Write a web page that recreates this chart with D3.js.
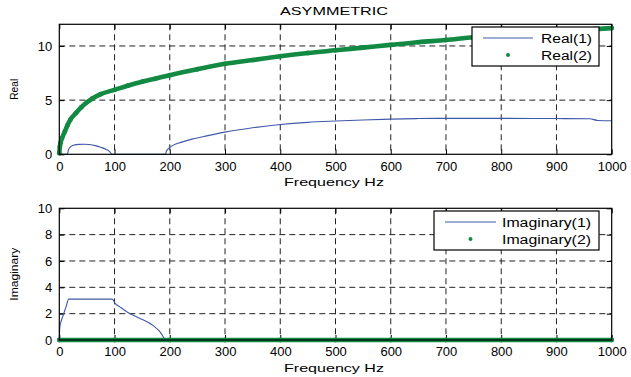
<!DOCTYPE html>
<html>
<head>
<meta charset="utf-8">
<script src="https://cdn.jsdelivr.net/npm/d3@7"></script>
<style>
  body { margin: 0; background: #fff; }
  text { font-family: "Liberation Sans", Arial, sans-serif; fill: #000; }
</style>
</head>
<body>
<svg id="chart" width="631" height="377"></svg>
<script>
// values
const xTicks = [0, 100, 200, 300, 400, 500, 600, 700, 800, 900, 1000];
const realTicks = [0, 5, 10];
const imagTicks = [0, 2, 4, 6, 8, 10];

const real1 = [[0,0],[15,0],[16,0.3],[18,0.55],[22,0.75],[28,0.87],[35,0.92],[45,0.93],[55,0.9],[65,0.8],[75,0.65],[85,0.45],[92,0.2],[95,0],
  [192,0],[194,0.3],[198,0.55],[205,0.8],[220,1.1],[240,1.4],[260,1.62],[300,2.05],[350,2.45],[400,2.75],[450,2.95],[500,3.07],
  [550,3.17],[600,3.25],[650,3.3],[700,3.32],[800,3.32],[900,3.3],[960,3.28],[975,3.12],[1000,3.1]];
const real2 = [[0,0.1],[1,0.7],[2,1.0],[5,1.5],[10,2.1],[15,2.7],[20,3.2],[30,3.8],[40,4.35],[50,4.8],[60,5.15],[75,5.55],[100,5.95],
  [125,6.35],[150,6.7],[175,7.0],[200,7.3],[250,7.85],[300,8.35],[350,8.7],[400,9.05],[450,9.35],[500,9.6],[550,9.85],[600,10.1],
  [650,10.35],[700,10.55],[750,10.8],[800,10.95],[850,11.15],[900,11.3],[950,11.5],[1000,11.65]];
const imag1 = [[0,0],[1,1.0],[4,1.5],[8,2.0],[12,2.5],[17,3.1],[96,3.1],[101,2.78],[110,2.5],[122,2.15],[146,1.64],[170,1.09],[182,0.63],[188,0.25],[191,0]];
const imag2 = [[0,0],[100,0],[200,0],[300,0],[400,0],[500,0],[600,0],[700,0],[800,0],[900,0],[1000,0]];

const blue = '#3f58a8';
const green = '#138a43';
const svg = d3.select('#chart');

function panel(top, bottom, yMax, yTicks, lineData, dotData, yLabel, names, legendBox) {
  const x = d3.scaleLinear().domain([0, 1000]).range([59.3, 611.7]);
  const y = d3.scaleLinear().domain([0, yMax]).range([bottom, top]);
  const g = svg.append('g');

  // dashed grid
  g.selectAll('.vg').data(xTicks.slice(1, -1)).enter().append('line')
    .attr('x1', d => x(d)).attr('x2', d => x(d)).attr('y1', top).attr('y2', bottom)
    .attr('stroke', '#222').attr('stroke-dasharray', '6,4');
  g.selectAll('.hg').data(yTicks.filter(d => d > 0 && d < yMax)).enter().append('line')
    .attr('y1', d => y(d)).attr('y2', d => y(d)).attr('x1', x(0)).attr('x2', x(1000))
    .attr('stroke', '#222').attr('stroke-dasharray', '6,4');

  // axes with inward ticks
  g.append('g').attr('transform', `translate(0,${bottom})`)
    .call(d3.axisBottom(x).tickValues(xTicks).tickSize(-5).tickPadding(7).tickFormat(d3.format('d')))
    .call(a => { a.select('.domain').remove(); a.selectAll('text').attr('font-size', 13); });
  g.append('g').attr('transform', `translate(0,${top})`)
    .call(d3.axisTop(x).tickValues(xTicks).tickSize(-5).tickFormat(''))
    .call(a => a.select('.domain').remove());
  g.append('g').attr('transform', `translate(${x(0)},0)`)
    .call(d3.axisLeft(y).tickValues(yTicks).tickSize(-5).tickPadding(7))
    .call(a => { a.select('.domain').remove(); a.selectAll('text').attr('font-size', 13); });
  g.append('g').attr('transform', `translate(${x(1000)},0)`)
    .call(d3.axisRight(y).tickValues(yTicks).tickSize(-5).tickFormat(''))
    .call(a => a.select('.domain').remove());

  // green dotted series (dense markers)
  const line = d3.line().x(d => x(d[0])).y(d => y(d[1])).curve(d3.curveMonotoneX);
  g.append('path').datum(dotData).attr('d', line)
    .attr('fill', 'none').attr('stroke', green).attr('stroke-width', 4.6).attr('stroke-linecap', 'round');
  g.selectAll('.dot').data(dotData).enter().append('circle')
    .attr('cx', d => x(d[0])).attr('cy', d => y(d[1])).attr('r', 2.4).attr('fill', green);

  // blue line
  g.append('path').datum(lineData).attr('d', line)
    .attr('fill', 'none').attr('stroke', blue).attr('stroke-width', 1.1);

  // box
  g.append('rect').attr('x', x(0)).attr('y', top).attr('width', x(1000) - x(0)).attr('height', bottom - top)
    .attr('fill', 'none').attr('stroke', '#000').attr('stroke-width', 1.2);

  // labels
  g.append('text').attr('x', 334).attr('y', bottom + 32).attr('text-anchor', 'middle')
    .attr('font-size', 11.5).attr('textLength', 100).attr('lengthAdjust', 'spacingAndGlyphs').text('Frequency Hz');
  g.append('text').attr('transform', `translate(18,${(top + bottom) / 2}) rotate(-90)`).attr('text-anchor', 'middle')
    .attr('font-size', 10.5).attr('textLength', yLabel.len).attr('lengthAdjust', 'spacingAndGlyphs').text(yLabel.text);

  // legend
  const L = legendBox;
  g.append('rect').attr('x', L.x).attr('y', L.y).attr('width', L.w).attr('height', L.h)
    .attr('fill', '#fff').attr('stroke', '#000').attr('stroke-width', 1.2);
  g.append('line').attr('x1', L.lx1).attr('x2', L.lx2).attr('y1', L.y + 11).attr('y2', L.y + 11)
    .attr('stroke', blue).attr('stroke-width', 1.1);
  g.append('circle').attr('cx', (L.lx1 + L.lx2) / 2).attr('cy', L.y + 28).attr('r', 2).attr('fill', green);
  names.forEach((n, i) => {
    g.append('text').attr('x', L.tx).attr('y', L.y + 15.5 + i * 17).attr('font-size', 12.5)
      .attr('textLength', L.tl).attr('lengthAdjust', 'spacingAndGlyphs').text(n);
  });
}

svg.append('text').attr('x', 334).attr('y', 15).attr('text-anchor', 'middle')
  .attr('font-size', 11.5).attr('textLength', 108).attr('lengthAdjust', 'spacingAndGlyphs').text('ASYMMETRIC');

panel(24.3, 154.3, 12, realTicks, real1, real2, {text: 'Real', len: 21}, ['Real(1)', 'Real(2)'],
  {x: 472, y: 27, w: 127, h: 39, lx1: 483, lx2: 533, tx: 541, tl: 51});
panel(208.3, 340, 10, imagTicks, imag1, imag2, {text: 'Imaginary', len: 53}, ['Imaginary(1)', 'Imaginary(2)'],
  {x: 434, y: 211, w: 165, h: 39, lx1: 445, lx2: 496, tx: 502, tl: 89});
</script>
</body>
</html>
